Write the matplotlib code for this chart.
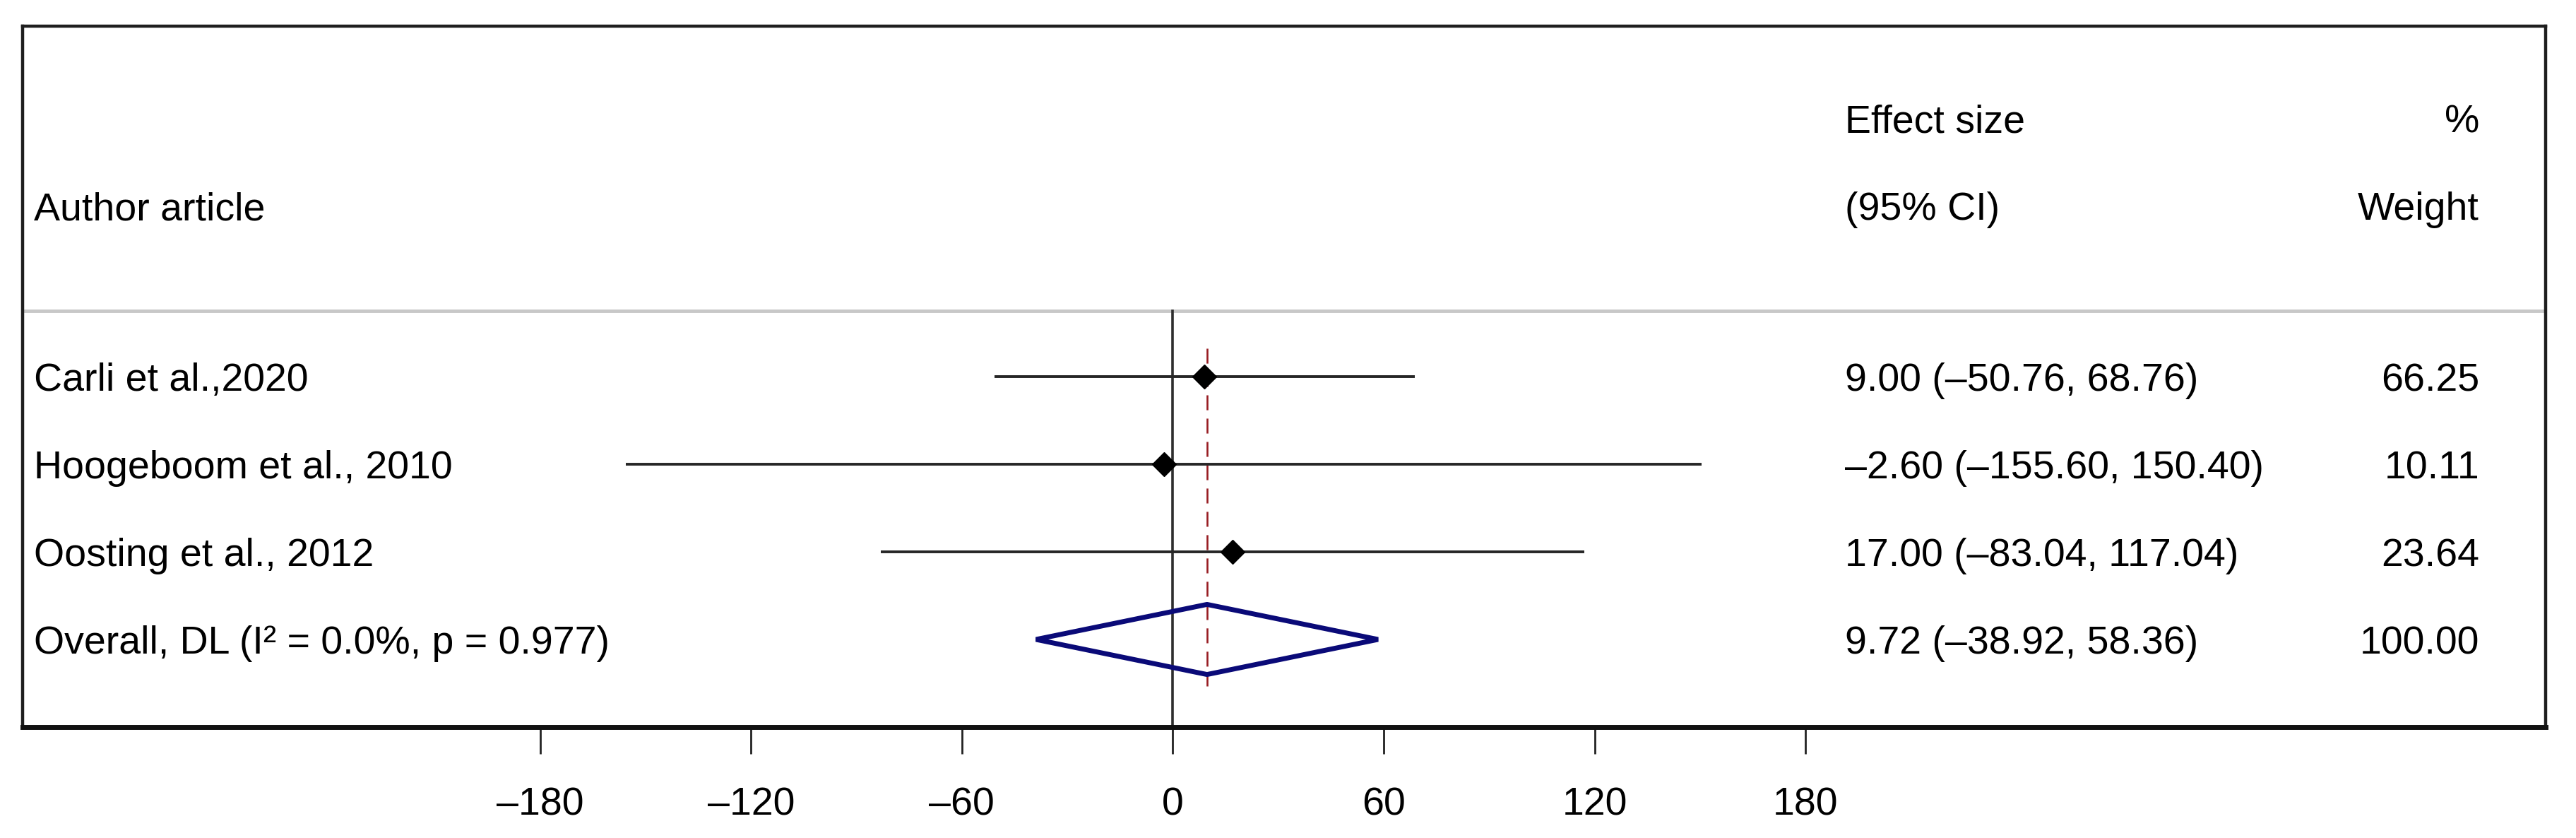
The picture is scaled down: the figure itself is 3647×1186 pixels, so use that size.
import matplotlib
matplotlib.use("Agg")
import matplotlib.pyplot as plt
from matplotlib.patches import Polygon

plt.rcParams['font.family'] = ['Liberation Sans', 'DejaVu Sans']

# ---- data ----
studies = ["Carli et al.,2020", "Hoogeboom et al., 2010", "Oosting et al., 2012"]
effect = [9.00, -2.60, 17.00]
ci_low = [-50.76, -155.60, -83.04]
ci_high = [68.76, 150.40, 117.04]
weights = [66.25, 10.11, 23.64]

overall_label = "Overall, DL (I\u00b2 = 0.0%, p = 0.977)"
overall_effect = 9.72
overall_low = -38.92
overall_high = 58.36
overall_weight = 100.00

tick_values = [-180, -120, -60, 0, 60, 120, 180]
tick_labels = ["\u2013180", "\u2013120", "\u201360", "0", "60", "120", "180"]


def fmt(v):
    return f"{v:.2f}".replace("-", "\u2013")


W, H, DPI = 3648, 1186, 100
fig = plt.figure(figsize=(W / DPI, H / DPI), dpi=DPI)
fig.patch.set_facecolor("white")

x0, x1, ytop, ybot = 32, 3604, 37, 1029
ax = fig.add_axes([x0 / W, 1 - ybot / H, (x1 - x0) / W, (ybot - ytop) / H])

ax.set_xlim(-327.2, 390.5)
ax.set_ylim(5, -3)

FS = 40
TOFF = 0.05  # small downward text offset (rows)
rows = list(range(1, len(studies) + 1))
row_overall = len(studies) + 1

# header separator
ax.axhline(0.25, color="#c8c8c8", lw=3.5, zorder=1)
# null line
ax.plot([0, 0], [0.25, 5], color="#2e2e2e", lw=2.6, zorder=2)
# overall dashed line
ax.plot([overall_effect, overall_effect], [0.68, 4.53], color="#981e24",
        lw=1.9, dashes=(8, 4.5), zorder=3)

# study CI lines and markers
for r, e, lo, hi in zip(rows, effect, ci_low, ci_high):
    ax.plot([lo, hi], [r, r], color="#262626", lw=2.8, solid_capstyle="butt", zorder=4)
    ax.plot([e], [r], marker="D", color="black", markersize=17, zorder=5)

# overall diamond
dh = 0.4
diamond = Polygon([[overall_low, row_overall], [overall_effect, row_overall - dh],
                   [overall_high, row_overall], [overall_effect, row_overall + dh]],
                  closed=True, fill=False, edgecolor="#0a0a78", lw=5, zorder=6,
                  joinstyle="bevel")
ax.add_patch(diamond)

# text
tr = ax.get_yaxis_transform()  # x in axes fraction, y in data
xl, xe, xw = 0.0045, 0.7223, 0.9737
ax.text(xl, -0.95 + TOFF, "Author article", transform=tr, fontsize=FS, va="center", ha="left")
ax.text(xe, -1.95 + TOFF, "Effect size", transform=tr, fontsize=FS, va="center", ha="left")
ax.text(xe, -0.95 + TOFF, "(95% CI)", transform=tr, fontsize=FS, va="center", ha="left")
ax.text(xw, -1.95 + TOFF, "%", transform=tr, fontsize=FS, va="center", ha="right")
ax.text(xw, -0.95 + TOFF, "Weight", transform=tr, fontsize=FS, va="center", ha="right")

for r, name, e, lo, hi, w in zip(rows, studies, effect, ci_low, ci_high, weights):
    ax.text(xl, r + TOFF, name, transform=tr, fontsize=FS, va="center", ha="left")
    ax.text(xe, r + TOFF, f"{fmt(e)} ({fmt(lo)}, {fmt(hi)})", transform=tr, fontsize=FS,
            va="center", ha="left")
    ax.text(xw, r + TOFF, f"{w:.2f}", transform=tr, fontsize=FS, va="center", ha="right")

ax.text(xl, row_overall + TOFF, overall_label, transform=tr, fontsize=FS, va="center", ha="left")
ax.text(xe, row_overall + TOFF, f"{fmt(overall_effect)} ({fmt(overall_low)}, {fmt(overall_high)})",
        transform=tr, fontsize=FS, va="center", ha="left")
ax.text(xw, row_overall + TOFF, f"{overall_weight:.2f}", transform=tr, fontsize=FS,
        va="center", ha="right")

# axes / frame
ax.set_xticks(tick_values)
ax.set_xticklabels(tick_labels, fontsize=FS)
ax.set_yticks([])
ax.tick_params(axis="x", direction="out", length=27, width=2.0, pad=34, color="#222222")
for side in ["left", "right", "top"]:
    ax.spines[side].set_linewidth(3.2)
    ax.spines[side].set_color("#1e1e1e")
ax.spines["bottom"].set_linewidth(5)
ax.spines["bottom"].set_color("#111111")

fig.savefig("out.png", dpi=DPI, facecolor="white")
